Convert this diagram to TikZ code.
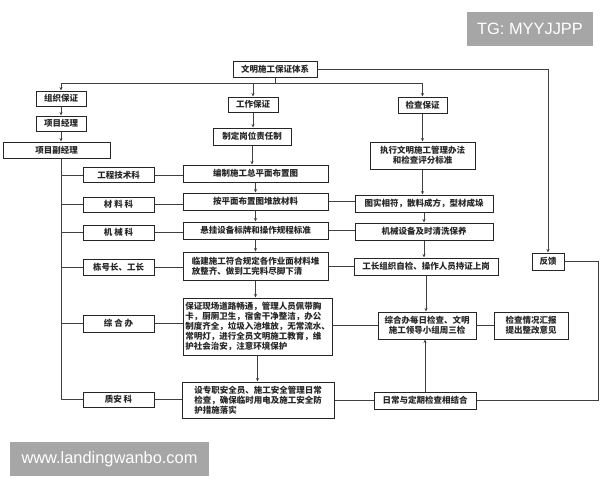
\documentclass[tikz,border=0pt]{standalone}
\usepackage{fontspec}
\setmainfont{Noto Sans CJK SC}
\newfontfamily\wmfont{Liberation Sans}
\usetikzlibrary{arrows.meta}
\definecolor{wm}{HTML}{A6A6A6}
\begin{document}
\begin{tikzpicture}[x=1pt,y=-1pt,
  box/.style={draw=black!85,line width=1pt,inner sep=0pt,align=center,
    font=\fontsize{8.5}{10}\selectfont\bfseries,text=black!85},
  lbox/.style={box,align=left},
  ln/.style={draw=black!75,line width=0.7pt},
  arr/.style={ln,-{Stealth[length=3.5pt,width=3pt]}},
  wmbox/.style={fill=wm,text=white,inner sep=0pt,font=\wmfont\fontsize{16.4}{18}\selectfont}]
\useasboundingbox (0,0) rectangle (600,480);
% top
\node[box,minimum width=84pt,minimum height=16pt] (top) at (275,69) {文明施工保证体系};
\node[box,minimum width=50pt,minimum height=15pt] (zz) at (61,98.5) {组织保证};
\node[box,minimum width=50pt,minimum height=15pt] (xm) at (61,123.5) {项目经理};
\node[box,minimum width=107pt,minimum height=16pt] (fj) at (56.5,150) {项目副经理};
\node[box,minimum width=50pt,minimum height=15pt] (gz) at (253,104.5) {工作保证};
\node[box,minimum width=78pt,minimum height=17pt] (zd) at (252,136.5) {制定岗位责任制};
\node[box,minimum width=49pt,minimum height=16pt] (jc) at (422.5,105) {检查保证};
\node[box,minimum width=105pt,minimum height=27pt] (zx) at (422.5,155.5) {执行文明施工管理办法\\和检查评分标准};
% left column
\node[box,minimum width=71pt,minimum height=15pt] (l1) at (118.5,175) {工程技术科};
\node[box,minimum width=71pt,minimum height=15pt] (l2) at (118.5,204.5) {材\ 料\ 科};
\node[box,minimum width=71pt,minimum height=15pt] (l3) at (118.5,232.5) {机\ 械\ 科};
\node[box,minimum width=71pt,minimum height=16pt] (l4) at (118.5,267) {栋号长、工长};
\node[box,minimum width=71pt,minimum height=17pt] (l5) at (118.5,323.5) {综\ 合\ 办};
\node[box,minimum width=71pt,minimum height=15pt] (l6) at (118.5,399.5) {质安\ 科};
% middle column
\node[box,minimum width=145pt,minimum height=17pt] (m1) at (255.5,173.5) {编制施工总平面布置图};
\node[box,minimum width=145pt,minimum height=17pt] (m2) at (255.5,201.5) {按平面布置图堆放材料};
\node[box,minimum width=145pt,minimum height=17pt] (m3) at (255.5,230.5) {悬挂设备标牌和操作规程标准};
\node[lbox,minimum width=145pt,minimum height=28pt] (m4) at (255.5,266) {临建施工符合规定各作业面材料堆\\放整齐、做到工完料尽脚下清};
\node[lbox,minimum width=149pt,minimum height=57pt] (m5) at (257.5,326.5) {保证现场道路畅通，管理人员佩带胸\\卡，厨厕卫生，宿舍干净整洁，办公\\制度齐全，垃圾入池堆放，无常流水、\\常明灯，进行全员文明施工教育，维\\护社会治安，注意环境保护};
\node[lbox,minimum width=152pt,minimum height=36pt] (m6) at (258,400) {设专职安全员、施工安全管理日常\\检查，确保临时用电及施工安全防\\护措施落实};
% right column
\node[box,minimum width=138pt,minimum height=17pt] (r1) at (424,203.5) {图实相符，散料成方，型材成垛};
\node[box,minimum width=138pt,minimum height=17pt] (r2) at (424,231.5) {机械设备及时清洗保养};
\node[box,minimum width=144pt,minimum height=17pt] (r3) at (426,266.5) {工长组织自检、操作人员持证上岗};
\node[box,minimum width=98pt,minimum height=27pt] (r4) at (427,325.5) {综合办每日检查、文明\\施工领导小组周三检};
\node[box,minimum width=74pt,minimum height=27pt] (hb) at (531,325.5) {检查情况汇报\\提出整改意见};
\node[box,minimum width=102pt,minimum height=17pt] (r5) at (425,400.5) {日常与定期检查相结合};
\node[box,minimum width=32pt,minimum height=17pt] (fk) at (548,261.5) {反馈};
% watermarks
\node[wmbox,minimum width=126pt,minimum height=34.5pt] (wm1) at (530,28.8) {TG: MYYJJPP};
\node[wmbox,minimum width=199pt,minimum height=34.5pt] (wm2) at (109.5,458.8) {www.landingwanbo.com};
% connectors: top
\coordinate (h0) at (275,83);
\draw[ln] (top.south) -- (h0);
\draw[ln] (zz.north |- h0) -- (jc.north |- h0);
\draw[arr] (zz.north |- h0) -- (zz.north);
\draw[arr] (gz.north |- h0) -- (gz.north);
\draw[arr] (jc.north |- h0) -- (jc.north);
\draw[arr] (zz.south) -- (xm.north);
\draw[arr] (xm.south) -- (xm.south |- fj.north);
% left trunk
\draw[ln] (xm.south |- fj.south) -- (xm.south |- l6.west);
\foreach \n in {l1,l2,l3,l4,l5,l6}{\draw[ln] (xm.south |- \n.west) -- (\n.west);}
% middle chain
\draw[arr] (gz.south) -- (gz.south |- zd.north);
\draw[arr] (zd.south) -- (zd.south |- m1.north);
\draw[arr] (m1.south) -- (m1.south |- m2.north);
\draw[arr] (m2.south) -- (m2.south |- m3.north);
\draw[arr] (m3.south) -- (m3.south |- m4.north);
\draw[arr] (m4.south) -- (m4.south |- m5.north);
\draw[arr] (m5.south) -- (m5.south |- m6.north);
% left-middle
\draw[ln] (l1.east) -- (l1.east -| m1.west);
\draw[ln] (l2.east) -- (l2.east -| m2.west);
\draw[ln] (l3.east) -- (l3.east -| m3.west);
\draw[ln] (l4.east) -- (l4.east -| m4.west);
\draw[ln] (l5.east) -- (l5.east -| m5.west);
\draw[ln] (l6.east) -- (l6.east -| m6.west);
% right chain
\draw[arr] (jc.south) -- (jc.south |- zx.north);
\draw[arr] (zx.south) -- (zx.south |- r1.north);
\draw[arr] (r1.south) -- (r1.south |- r2.north);
\draw[arr] (r2.south) -- (r2.south |- r3.north);
\draw[arr] (r3.south) -- (r3.south |- r4.north);
\draw[arr] (r5.north) -- (r5.north |- r4.south);
% middle-right
\draw[ln] (m2.east) -- (m2.east -| r1.west);
\draw[ln] (m3.east) -- (m3.east -| r2.west);
\draw[ln] (m4.east) -- (m4.east -| r3.west);
\draw[ln] (m5.east |- r4.west) -- (r4.west);
\draw[ln] (m6.east |- r5.west) -- (r5.west);
\draw[ln] (r4.east) -- (hb.west);
% feedback loop
\draw[arr] (top.east) -| (fk.north);
\coordinate (fr) at (598,0);
\draw[ln] (fk.east) -- (fk.east -| fr) -- (fr |- r5.east) -- (r5.east);
\end{tikzpicture}
\end{document}
